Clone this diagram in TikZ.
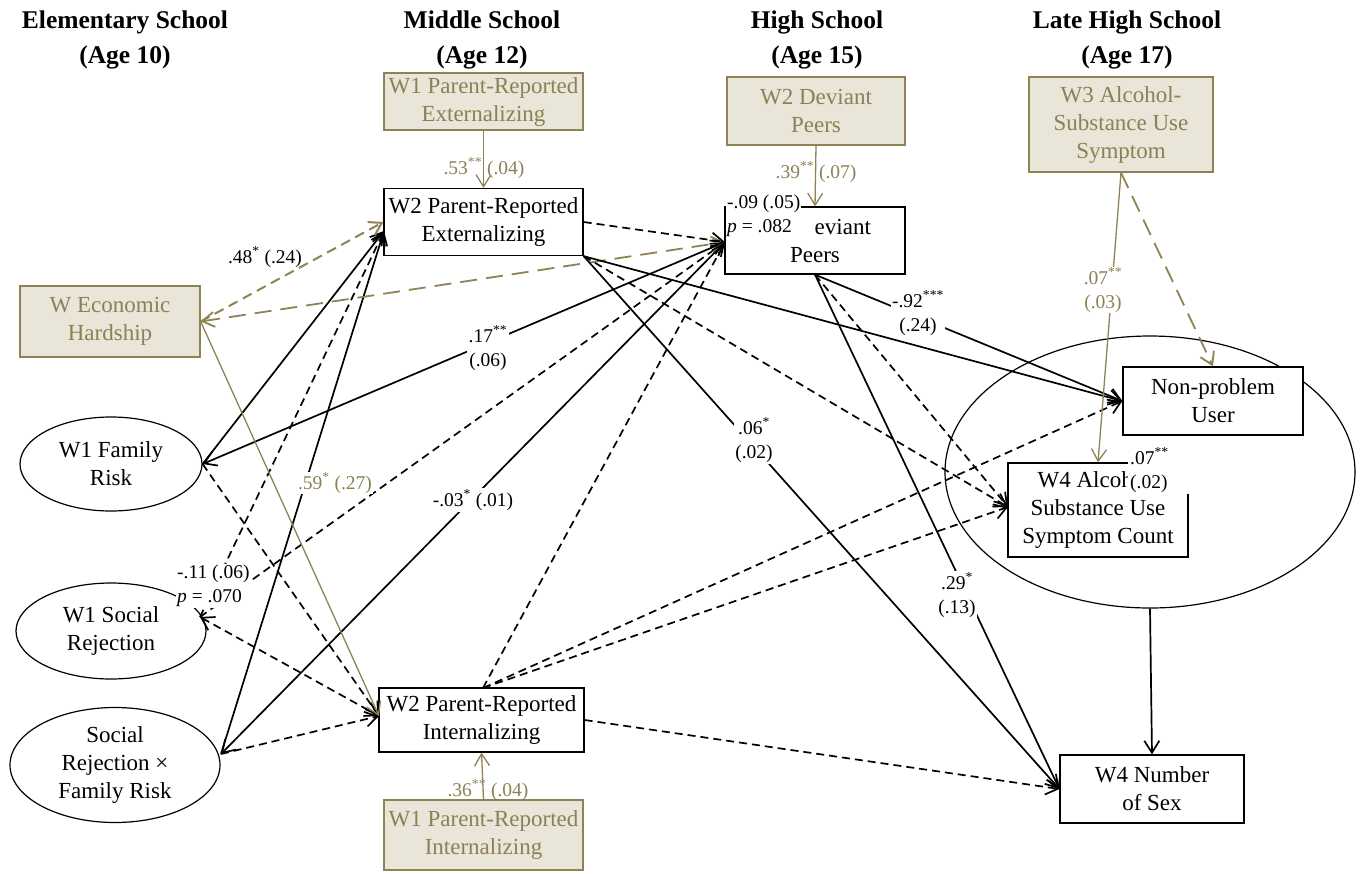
\documentclass[tikz,border=0pt]{standalone}
\usepackage{fontspec}
\setmainfont{Liberation Serif}
\usetikzlibrary{arrows.meta,shapes.geometric}
\definecolor{tanfill}{RGB}{233,229,216}
\definecolor{olive}{RGB}{143,130,84}
\definecolor{olivetext}{RGB}{140,128,85}
\begin{document}
\begin{tikzpicture}[x=1pt,y=-1pt,
 >={Straight Barb[length=12pt,width=15pt]},
 nfont/.style={font=\fontsize{23}{28}\selectfont},
 lfont/.style={font=\fontsize{19.5}{24}\selectfont},
 wbox/.style={draw=black, line width=1.3pt, fill=white, rectangle, align=center, inner sep=0pt, nfont},
 tanbox/.style={draw=olive, line width=1.3pt, fill=tanfill, text=olivetext, rectangle, align=center, inner sep=0pt, nfont},
 ell/.style={draw=black, line width=1.2pt, ellipse, align=center, inner sep=0pt, nfont},
 hdr/.style={font=\bfseries\fontsize{25.5}{35}\selectfont, align=center},
 bl/.style={draw=black, line width=1.7pt, ->},
 bld/.style={bl, dash pattern=on 8pt off 5pt},
 tl/.style={draw=olive, line width=1.3pt, ->},
 tld/.style={draw=olive, line width=2pt, dash pattern=on 10pt off 6pt, ->},
 tldd/.style={draw=olive, line width=1.8pt, dash pattern=on 17pt off 9pt, ->},
 lab/.style={lfont, align=center, inner sep=1.5pt, fill=white},
 tlab/.style={lfont, text=olivetext, align=center, inner sep=1pt},
]
\useasboundingbox (0,0) rectangle (1360,873);

% headers
\node[hdr] (h1) at (125,39.5) {Elementary School\\(Age 10)};
\node[hdr] (h2) at (482,39.5) {Middle School\\(Age 12)};
\node[hdr] (h3) at (817,39.5) {High School\\(Age 15)};
\node[hdr] (h4) at (1127,39.5) {Late High School\\(Age 17)};

% nodes
\node[tanbox, minimum width=199, minimum height=57] (w1ext) at (483.5,101.5) {W1 Parent-Reported\\Externalizing};
\node[wbox, minimum width=199, minimum height=67] (w2ext) at (483.5,222) {W2 Parent-Reported\\Externalizing};
\node[tanbox, minimum width=178, minimum height=68] (w2dp) at (816,111) {W2 Deviant\\Peers};
\node[wbox, minimum width=180, minimum height=67] (dp) at (815,240.5) {\phantom{W3 D}eviant\\Peers};
\node[tanbox, minimum width=184, minimum height=95] (w3alc) at (1121,124.5) {W3 Alcohol-\\Substance Use\\Symptom};
\node[tanbox, minimum width=180, minimum height=71] (econ) at (110,321.5) {W Economic\\Hardship};
\node[ell, minimum width=182, minimum height=94] (fam) at (111,464) {W1 Family\\Risk};
\node[ell, minimum width=190, minimum height=96] (soc) at (111,631) {W1 Social\\Rejection};
\node[ell, minimum width=210, minimum height=115] (srfr) at (115,765) {Social\\Rejection ×\\Family Risk};
\node[wbox, minimum width=205, minimum height=64] (w2int) at (481.5,720) {W2 Parent-Reported\\Internalizing};
\node[tanbox, minimum width=199, minimum height=70] (w1int) at (483.5,835) {W1 Parent-Reported\\Internalizing};
\node[ell, minimum width=410, minimum height=272] (outc) at (1150,472) {};
\node[wbox, minimum width=180, minimum height=68] (np) at (1213,401) {Non-problem\\User};
\node[wbox, minimum width=180, minimum height=94] (alc4) at (1098,510) {W4 Alcoh\phantom{ol-}\\Substance Use\\Symptom Count};
\node[wbox, minimum width=184, minimum height=68] (sex) at (1152,789) {W4 Number\\of Sex};

% connection points
\coordinate (extin) at (384,231);
\coordinate (dpin) at (725,242);
\coordinate (intin) at (379,716);
\coordinate (socout) at (200,617);
\coordinate (srout) at (221,754);
\coordinate (alcin) at (1008,507);
\coordinate (intout) at (483,688);

% W1 family risk
\draw[bl] (fam.east) -- (extin);
\draw[bl,<->] (fam.east) -- (dpin);
\draw[bld] (fam.east) -- (intin);
% W1 social rejection
\draw[bld] (socout) -- (extin);
\draw[bld] (socout) -- (dpin);
\draw[bld,<->] (socout) -- (intin);
% social rejection x family risk
\draw[bl] (srout) -- (extin);
\draw[bl,<->] (srout) -- (dpin);
\draw[bld] (srout) -- (intin);
% economic hardship
\draw[tld] (econ.east) -- (w2ext.west);
\draw[tldd,<->] (econ.east) -- (dpin);
\draw[tl] (econ.east) -- (intin);
% W2 externalizing
\draw[bld] (w2ext.east) -- (dpin);
\draw[bl] (w2ext.south east) -- (np.west);
\draw[bl] (w2ext.south east) -- (sex.west);
\draw[bld] (w2ext.south east) -- (alcin);
% deviant peers
\draw[bl] (dp.south) -- (np.west);
\draw[bld] (dp.south) -- (alcin);
\draw[bl] (dp.south) -- (sex.west);
% W2 internalizing
\draw[bld] (intout) -- (dpin);
\draw[bld] (intout) -- (np.west);
\draw[bld] (intout) -- (alcin);
\draw[bld] (w2int.east) -- (sex.west);
% autoregressive paths
\draw[tl] (w1ext.south) -- (w2ext.north);
\draw[tl] (w2dp.south) -- (dp.north);
\draw[tl] (w1int.north) -- (w2int.south);
% W3
\draw[tl] (w3alc.south) -- (alc4.north);
\draw[tldd] (w3alc.south) -- (np.north);
\draw[bl] (outc.south) -- (sex.north);

% labels
\node[tlab] (l53) at (484,168) {.53\textsuperscript{**} (.04)};
\node[tlab] (l39) at (816,172) {.39\textsuperscript{**} (.07)};
\node[tlab] (l36) at (488,790) {.36\textsuperscript{**} (.04)};
\node[lab, fill=none] (l48) at (265,257) {.48\textsuperscript{*} (.24)};
\node[lab] (l17) at (488,348) {.17\textsuperscript{**}\\(.06)};
\node[tlab, fill=white] (l59) at (335,483) {.59\textsuperscript{*} (.27)};
\node[lab] (l03) at (473,500) {-.03\textsuperscript{*} (.01)};
\node[lab, anchor=west, align=left, inner sep=1pt] (l11) at (176,586) {-.11 (.06)\\\textit{p} = .070};
\node[lab, anchor=west, align=left, inner sep=1pt] (l09) at (726,216) {-.09 (.05)\\\textit{p} = .082};
\node[lab] (l06) at (754,440) {.06\textsuperscript{*}\\(.02)};
\node[lab] (l92) at (918,313) {-.92\textsuperscript{***}\\(.24)};
\node[lab] (l29) at (957,595) {.29\textsuperscript{*}\\(.13)};
\node[tlab, fill=white] (l07a) at (1103,290) {.07\textsuperscript{**}\\(.03)};
\node[lab, anchor=west, align=left, text width=58pt, inner sep=2pt] (l07b) at (1128,470) {.07\textsuperscript{**}\\(.02)};
\end{tikzpicture}
\end{document}
